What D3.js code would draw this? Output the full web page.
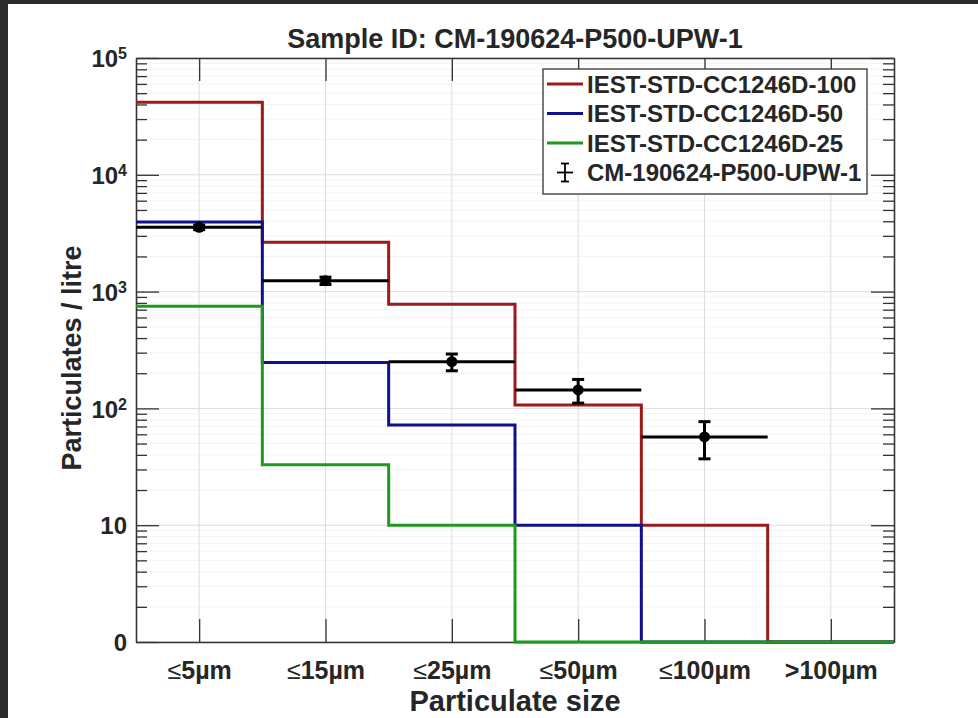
<!DOCTYPE html>
<html>
<head>
<meta charset="utf-8">
<script src="https://cdn.jsdelivr.net/npm/d3@7"></script>
<style>
  body { margin: 0; background: #2b2b2b; }
  svg { display: block; }
  text { font-family: "Liberation Sans", Arial, sans-serif; font-weight: bold; fill: #262626; }
</style>
</head>
<body>
<main></main>
<script>
// categories + series
const sizeLabels = ["5µm", "15µm", "25µm", "50µm", "100µm", ">100µm"];
const level100 = [41700, 2650, 780, 107, 10, 0];
const level50 = [3950, 247, 72, 10, 0, 0];
const level25 = [750, 33, 10, 0, 0, 0];
const sampleCounts = [3550, 1240, 251, 144, 57];
const sampleErrors = [160, 90, 41, 33, 20];
const yMajor = [1, 10, 100, 1000, 10000, 100000];
const yMajorLabels = [["0", ""], ["10", ""], ["10", "2"], ["10", "3"], ["10", "4"], ["10", "5"]];
const seriesNames = ["IEST-STD-CC1246D-100", "IEST-STD-CC1246D-50", "IEST-STD-CC1246D-25", "CM-190624-P500-UPW-1"];

const width = 978;
const height = 718;
const margin = { top: 58, right: 84, bottom: 76, left: 136 };
const colors = ["#9c1a1a", "#10108f", "#1d9a1d"];

const svg = d3.select("main").append("svg").attr("width", width).attr("height", height);
svg.append("rect").attr("x", 8).attr("y", 4).attr("width", width - 8).attr("height", height - 4).attr("fill", "#fff");

const x0 = margin.left, x1 = width - margin.right;
const y0 = height - margin.bottom, y1 = margin.top;

const xScale = d3.scaleLinear().domain([0.5, 6.5]).range([x0, x1]);
const yScale = d3.scaleLog().domain([1, 1e5]).range([y0, y1]);
const yv = (v) => yScale(Math.max(v, 1));

// minor values 2..9 per decade
const yMinor = [];
yMajor.slice(0, -1).forEach((d) => {
  for (let k = 2; k <= 9; k++) yMinor.push(d * k);
});
const xTicks = sizeLabels.map((d, i) => i + 1);

// grid
const grid = svg.append("g");
grid.selectAll(".minor").data(yMinor).enter().append("line")
  .attr("x1", x0).attr("x2", x1)
  .attr("y1", (d) => yScale(d)).attr("y2", (d) => yScale(d))
  .attr("stroke", "#f3f3f3").attr("stroke-width", 1);
grid.selectAll(".major").data(yMajor).enter().append("line")
  .attr("x1", x0).attr("x2", x1)
  .attr("y1", (d) => yScale(d)).attr("y2", (d) => yScale(d))
  .attr("stroke", "#dddddd").attr("stroke-width", 1);
grid.selectAll(".vert").data(xTicks).enter().append("line")
  .attr("x1", (d) => xScale(d)).attr("x2", (d) => xScale(d))
  .attr("y1", y1).attr("y2", y0)
  .attr("stroke", "#dddddd").attr("stroke-width", 1);

// axes (ticks point inwards)
const axisColor = "#333";
const styleAxis = (g) => {
  g.selectAll("path, line").attr("stroke", axisColor).attr("stroke-width", 1.3);
  g.selectAll("text").attr("fill", "#262626");
};

const yLeft = svg.append("g").attr("transform", `translate(${x0},0)`)
  .call(d3.axisLeft(yScale).tickValues(yMajor).tickSizeInner(-23).tickSizeOuter(0).tickPadding(9).tickFormat(""))
  .call(styleAxis);
yLeft.selectAll(".tick text").each(function (d, i) {
  const t = d3.select(this).attr("font-size", 24).attr("dy", "0.36em").style("font-family", null);
  const lab = yMajorLabels[i];
  t.append("tspan").text(lab[0]);
  if (lab[1]) t.append("tspan").attr("dy", "-0.5em").attr("font-size", 16).text(lab[1]);
});
svg.append("g").attr("transform", `translate(${x0},0)`)
  .call(d3.axisLeft(yScale).tickValues(yMinor).tickSizeInner(-11).tickSizeOuter(0).tickFormat(""))
  .call(styleAxis);
svg.append("g").attr("transform", `translate(${x1},0)`)
  .call(d3.axisRight(yScale).tickValues(yMajor).tickSizeInner(-23).tickSizeOuter(0).tickFormat(""))
  .call(styleAxis);
svg.append("g").attr("transform", `translate(${x1},0)`)
  .call(d3.axisRight(yScale).tickValues(yMinor).tickSizeInner(-11).tickSizeOuter(0).tickFormat(""))
  .call(styleAxis);

const xBottom = svg.append("g").attr("transform", `translate(0,${y0})`)
  .call(d3.axisBottom(xScale).tickValues(xTicks).tickSizeInner(-23).tickSizeOuter(0).tickPadding(14).tickFormat(""))
  .call(styleAxis);
xBottom.selectAll(".tick text").each(function (d, i) {
  const t = d3.select(this).attr("font-size", 25).attr("dy", "0.93em").style("font-family", null);
  const lab = sizeLabels[i];
  if (lab[0] !== ">") t.append("tspan").attr("font-weight", "normal").text("≤");
  t.append("tspan").text(lab);
});
svg.append("g").attr("transform", `translate(0,${y1})`)
  .call(d3.axisTop(xScale).tickValues(xTicks).tickSizeInner(-23).tickSizeOuter(0).tickFormat(""))
  .call(styleAxis);

// step lines for the standard levels
const stairs = (vals) => {
  const pts = vals.map((v, i) => [i + 0.5, v]);
  pts.push([vals.length + 0.5, vals[vals.length - 1]]);
  return pts;
};
const stepLine = d3.line().x((d) => xScale(d[0])).y((d) => yv(d[1])).curve(d3.curveStepAfter);
[level100, level50, level25].forEach((vals, k) => {
  svg.append("path")
    .attr("d", stepLine(stairs(vals)))
    .attr("fill", "none")
    .attr("stroke", colors[k])
    .attr("stroke-width", 3);
});

// sample with error bars
const sample = svg.append("g");
const capW = 6;
sampleCounts.forEach((v, i) => {
  const cx = xScale(i + 1);
  const e = sampleErrors[i];
  sample.append("line")
    .attr("x1", xScale(i + 0.5)).attr("x2", xScale(i + 1.5))
    .attr("y1", yv(v)).attr("y2", yv(v))
    .attr("stroke", "#000").attr("stroke-width", 3);
  sample.append("line")
    .attr("x1", cx).attr("x2", cx)
    .attr("y1", yv(v + e)).attr("y2", yv(v - e))
    .attr("stroke", "#000").attr("stroke-width", 3);
  [v + e, v - e].forEach((c) => {
    sample.append("line")
      .attr("x1", cx - capW).attr("x2", cx + capW)
      .attr("y1", yv(c)).attr("y2", yv(c))
      .attr("stroke", "#000").attr("stroke-width", 3);
  });
  sample.append("circle").attr("cx", cx).attr("cy", yv(v)).attr("r", 5.5).attr("fill", "#000");
});

// title + axis labels
svg.append("text")
  .attr("x", (x0 + x1) / 2).attr("y", 48)
  .attr("text-anchor", "middle").attr("font-size", 27)
  .text("Sample ID: CM-190624-P500-UPW-1");
svg.append("text")
  .attr("x", (x0 + x1) / 2).attr("y", 711)
  .attr("text-anchor", "middle").attr("font-size", 29)
  .text("Particulate size");
svg.append("text")
  .attr("transform", `translate(81,358) rotate(-90)`)
  .attr("text-anchor", "middle").attr("font-size", 27)
  .text("Particulates / litre");

// legend
const legend = svg.append("g").attr("transform", "translate(543,69)");
legend.append("rect").attr("width", 324).attr("height", 125)
  .attr("fill", "#fff").attr("stroke", "#333").attr("stroke-width", 1.3);
seriesNames.forEach((name, i) => {
  const cy = 15 + i * 29.5;
  if (i < 3) {
    legend.append("line").attr("x1", 4).attr("x2", 40).attr("y1", cy).attr("y2", cy)
      .attr("stroke", colors[i]).attr("stroke-width", 3);
  } else {
    const g = legend.append("g").attr("stroke", "#000").attr("stroke-width", 1.8);
    g.append("line").attr("x1", 22).attr("x2", 22).attr("y1", cy - 9).attr("y2", cy + 9);
    g.append("line").attr("x1", 14).attr("x2", 30).attr("y1", cy).attr("y2", cy);
    g.append("line").attr("x1", 18).attr("x2", 26).attr("y1", cy - 9).attr("y2", cy - 9);
    g.append("line").attr("x1", 18).attr("x2", 26).attr("y1", cy + 9).attr("y2", cy + 9);
  }
  legend.append("text").attr("x", 44).attr("y", cy + 8.5).attr("font-size", 24).text(name);
});
</script>
</body>
</html>
